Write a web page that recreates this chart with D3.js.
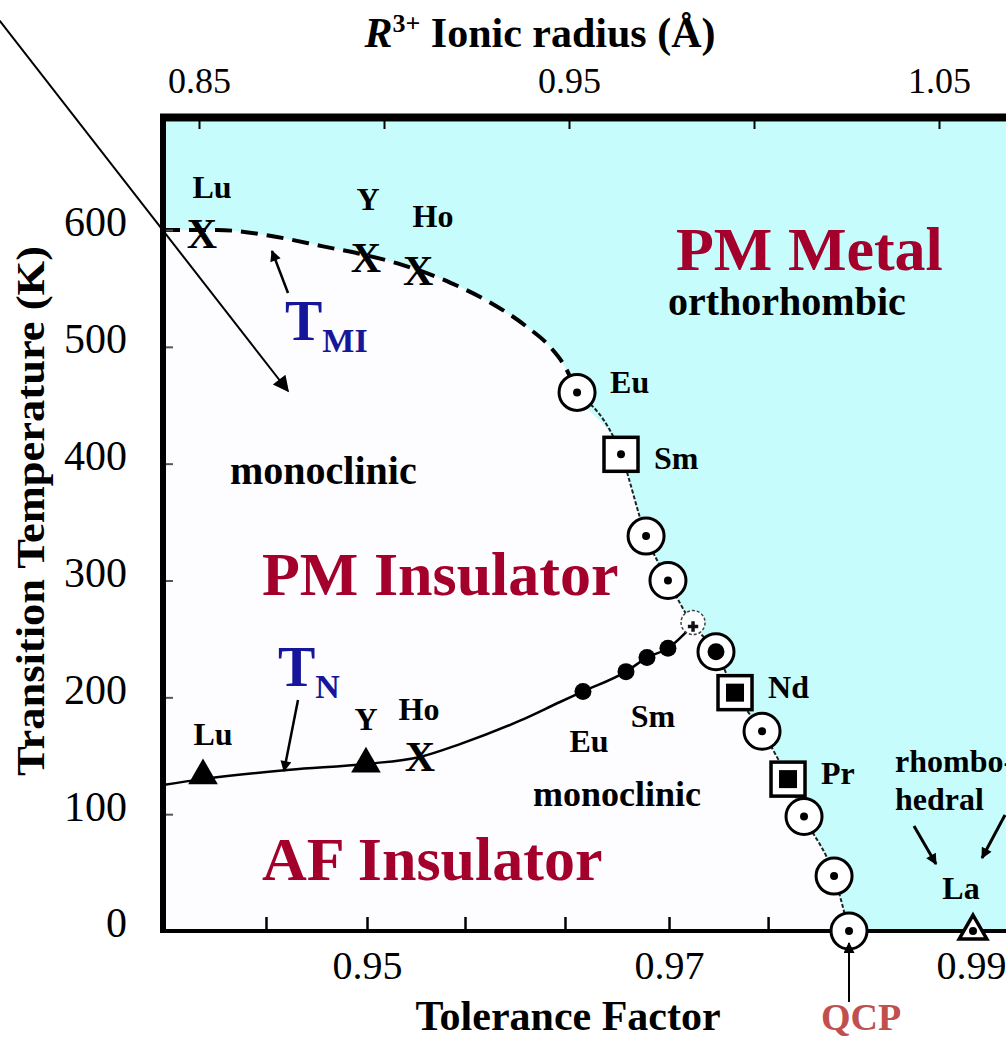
<!DOCTYPE html>
<html>
<head>
<meta charset="utf-8">
<script src="https://cdn.jsdelivr.net/npm/d3@7"></script>
<style>
  body { margin: 0; background: #fff; }
  svg { display: block; font-family: "Liberation Serif", "Times New Roman", serif; }
</style>
</head>
<body>
<svg width="1006" height="1038"></svg>
<script>
// ---- data (tolerance factor / temperature in K) ----
const tolTickValues = [0.94331, 0.95, 0.95649, 0.96311, 0.97, 0.97656];
const tolLabelValues = [0.95, 0.97, 0.99];
const radiusTickValues = [0.85, 0.90, 0.95, 1.00, 1.05];
const radiusLabelValues = [0.85, 0.95, 1.05];
const tempTickValues = [0, 100, 200, 300, 400, 500, 600];

// T_MI, dashed part (Lu .. Eu)
const tmiDashTol = [0.93649, 0.94007, 0.94404, 0.94709, 0.94974, 0.95238, 0.9555, 0.95815, 0.9606, 0.96212, 0.96311, 0.96391];
const tmiDashT   = [600, 600, 594, 586, 579, 570, 555, 538, 517, 500, 483, 461];
// T_MI, solid part (Eu .. QCP)
const tmiEdgeTol = [0.96391, 0.96682, 0.96848, 0.96993, 0.97159, 0.97311, 0.97437, 0.97616, 0.97788, 0.97894, 0.98093, 0.98192];
const tmiEdgeT   = [461, 408, 338, 300, 262, 239, 204, 171, 130, 98, 47, 0];

// markers sitting on the metal/insulator edge
const edgeMarkTol   = [0.96391, 0.96682, 0.96848, 0.96993, 0.97311, 0.97437, 0.97616, 0.97788, 0.97894, 0.98093, 0.98192];
const edgeMarkT     = [461, 408, 338, 300, 239, 204, 171, 130, 98, 47, 0];
const edgeMarkShape = ['dot', 'sq', 'dot', 'dot', 'bigdot', 'fsq', 'dot', 'fsq', 'dot', 'dot', 'dot'];
const edgeMarkName  = ['Eu', 'Sm', '', '', '', 'Nd', '', 'Pr', '', '', ''];

const crossTol = 0.97159, crossT = 264;

// T_MI crosses (Lu, Y, Ho)
const tmiXTol  = [0.93907, 0.94993, 0.95338];
const tmiXT    = [597, 576, 565];
const tmiXName = ['Lu', 'Y', 'Ho'];

// T_N line and markers
const tnLineTol = [0.93649, 0.93914, 0.9449, 0.94993, 0.95351, 0.95616, 0.96013, 0.96278, 0.9643, 0.96715, 0.96854, 0.96993, 0.97159];
const tnLineT   = [125, 130, 138, 143, 149, 160, 180, 196, 205, 222, 234, 242, 262];
const tnTriTol  = [0.93914, 0.94993];
const tnTriT    = [133, 143];
const tnTriName = ['Lu', 'Y'];
const tnXTol = 0.95351, tnXT = 149;
const tnDotTol = [0.9643, 0.96715, 0.96854, 0.96993];
const tnDotT   = [205, 222, 234, 242];

const laTol = 0.99013, laT = 0;

// ---- scales ----
const svg = d3.select('svg');
const x = d3.scaleLinear().domain([0.93649, 0.99258]).range([163, 1010]);
const y = d3.scaleLinear().domain([0, 600]).range([931, 230]);
const rad = d3.scaleLinear().domain([0.85, 1.05]).range([199, 939]);

const darkRed = '#a3002b';
const navy = '#16169a';

// arrow heads
const defs = svg.append('defs');
const addHead = (id, w, h) => {
  defs.append('marker')
      .attr('id', id)
      .attr('viewBox', '0 0 10 10')
      .attr('refX', 9).attr('refY', 5)
      .attr('markerWidth', w).attr('markerHeight', h)
      .attr('markerUnits', 'userSpaceOnUse')
      .attr('orient', 'auto')
    .append('path')
      .attr('d', 'M0,0L10,5L0,10z')
      .attr('fill', 'black');
};
addHead('head', 22, 16);
addHead('headSmall', 14, 11);

// ---- regions ----
svg.append('rect')
    .attr('x', 166).attr('y', 122)
    .attr('width', 844).attr('height', 807)
    .attr('fill', '#c6fcfc');

const edgePts = tmiDashTol.map((t, i) => [t, tmiDashT[i]])
  .concat(tmiEdgeTol.slice(1).map((t, i) => [t, tmiEdgeT[i + 1]]));

svg.append('path')
    .datum(edgePts)
    .attr('fill', '#fdfcfe')
    .attr('d', d3.area()
      .x(d => x(d[0]))
      .y0(y(0))
      .y1(d => y(d[1]))
      .curve(d3.curveMonotoneX));

const line = d3.line().x(d => x(d[0])).y(d => y(d[1])).curve(d3.curveMonotoneX);

svg.append('path')
    .datum(tmiDashTol.map((t, i) => [t, tmiDashT[i]]))
    .attr('fill', 'none')
    .attr('stroke', 'black')
    .attr('stroke-width', 4)
    .attr('stroke-dasharray', '17,9')
    .attr('d', line);

svg.append('path')
    .datum(tmiEdgeTol.map((t, i) => [t, tmiEdgeT[i]]))
    .attr('fill', 'none')
    .attr('stroke', '#222')
    .attr('stroke-width', 2)
    .attr('stroke-dasharray', '4,2')
    .attr('d', line);

svg.append('path')
    .datum(tnLineTol.map((t, i) => [t, tnLineT[i]]))
    .attr('fill', 'none')
    .attr('stroke', 'black')
    .attr('stroke-width', 2.5)
    .attr('d', line);

// ---- axes ----
const styleAxis = (g, size) => {
  g.attr('font-family', null).attr('font-size', size);
  g.select('.domain').remove();
  g.selectAll('.tick text').attr('fill', 'black');
};

svg.append('g')
    .attr('transform', 'translate(0,118)')
    .call(d3.axisTop(rad)
      .tickValues(radiusTickValues)
      .tickSize(-11)
      .tickPadding(25)
      .tickFormat(d => radiusLabelValues.some(v => Math.abs(v - d) < 1e-6) ? d3.format('.2f')(d) : ''))
    .call(styleAxis, 36)
    .selectAll('.tick line').attr('stroke-width', 2);

svg.append('g')
    .attr('transform', 'translate(163,0)')
    .call(d3.axisLeft(y)
      .tickValues(tempTickValues)
      .tickSize(-10)
      .tickPadding(36))
    .call(styleAxis, 42)
    .call(g => g.selectAll('.tick text').attr('dy', '0.14em'))
    .selectAll('.tick line').attr('stroke', '#555').attr('stroke-width', 2);

svg.append('g')
    .attr('transform', 'translate(0,931)')
    .call(d3.axisBottom(x)
      .tickValues(tolTickValues)
      .tickSize(-14)
      .tickFormat(''))
    .call(styleAxis, 40)
    .selectAll('.tick line').attr('stroke-width', 2.5);

svg.append('g')
    .attr('transform', 'translate(0,931)')
    .call(d3.axisBottom(x)
      .tickValues(tolLabelValues)
      .tickSize(0)
      .tickPadding(20)
      .tickFormat(d3.format('.2f')))
    .call(styleAxis, 40);

// frame
svg.append('line').attr('x1', 160).attr('x2', 1010).attr('y1', 117.5).attr('y2', 117.5)
    .attr('stroke', 'black').attr('stroke-width', 8);
svg.append('line').attr('x1', 163).attr('x2', 163).attr('y1', 114).attr('y2', 933)
    .attr('stroke', 'black').attr('stroke-width', 6);
svg.append('line').attr('x1', 160).attr('x2', 1010).attr('y1', 931).attr('y2', 931)
    .attr('stroke', 'black').attr('stroke-width', 4);

// ---- markers ----
const bold = sel => sel.attr('font-weight', 'bold').attr('fill', 'black');

// T_MI crosses
tmiXTol.forEach((t, i) => {
  svg.append('text')
      .attr('x', x(t)).attr('y', y(tmiXT[i]))
      .attr('dy', '0.34em')
      .attr('text-anchor', 'middle')
      .attr('font-size', 42)
      .call(bold)
      .text('X');
});
const tmiNameOff = [[10, -36], [2, -48], [15, -44]];
tmiXTol.forEach((t, i) => {
  svg.append('text')
      .attr('x', x(t) + tmiNameOff[i][0]).attr('y', y(tmiXT[i]) + tmiNameOff[i][1])
      .attr('text-anchor', 'middle')
      .attr('font-size', 32)
      .call(bold)
      .text(tmiXName[i]);
});

// crossing point
svg.append('circle')
    .attr('cx', x(crossTol)).attr('cy', y(crossT)).attr('r', 12)
    .attr('fill', 'white').attr('stroke', '#444')
    .attr('stroke-width', 1.5).attr('stroke-dasharray', '3,2');
svg.append('path')
    .attr('transform', `translate(${x(crossTol)},${y(crossT) + 4})`)
    .attr('d', d3.symbol(d3.symbolCross, 60)())
    .attr('fill', '#111');

// edge markers
edgeMarkTol.forEach((t, i) => {
  const cx = x(t), cy = y(edgeMarkT[i]);
  const shape = edgeMarkShape[i];
  if (shape === 'sq' || shape === 'fsq') {
    svg.append('rect')
        .attr('x', cx - 17).attr('y', cy - 17).attr('width', 34).attr('height', 34)
        .attr('fill', 'white').attr('stroke', 'black').attr('stroke-width', 3.5);
    if (shape === 'fsq') {
      svg.append('rect')
          .attr('x', cx - 9).attr('y', cy - 9).attr('width', 18).attr('height', 18)
          .attr('fill', 'black');
    } else {
      svg.append('circle').attr('cx', cx).attr('cy', cy).attr('r', 4).attr('fill', 'black');
    }
  } else {
    svg.append('circle')
        .attr('cx', cx).attr('cy', cy).attr('r', 18)
        .attr('fill', 'white').attr('stroke', 'black').attr('stroke-width', 3);
    svg.append('circle')
        .attr('cx', cx).attr('cy', cy).attr('r', shape === 'bigdot' ? 8.5 : 4)
        .attr('fill', 'black');
  }
  if (edgeMarkName[i]) {
    svg.append('text')
        .attr('x', cx + 33).attr('y', cy + (i < 2 ? (i === 0 ? 1 : 15) : 5))
        .attr('font-size', 32)
        .call(bold)
        .text(edgeMarkName[i]);
  }
});

// La
svg.append('path')
    .attr('transform', `translate(${x(laTol)},${y(laT)})`)
    .attr('d', d3.symbol(d3.symbolTriangle, 330)())
    .attr('fill', 'white').attr('stroke', 'black').attr('stroke-width', 3.5);
svg.append('circle').attr('cx', x(laTol)).attr('cy', y(laT)).attr('r', 4).attr('fill', 'black');
svg.append('text')
    .attr('x', x(laTol) - 12).attr('y', y(laT) - 32)
    .attr('text-anchor', 'middle').attr('font-size', 32)
    .call(bold).text('La');

// T_N markers
tnTriTol.forEach((t, i) => {
  svg.append('path')
      .attr('transform', `translate(${x(t)},${y(tnTriT[i])})`)
      .attr('d', d3.symbol(d3.symbolTriangle, 380)())
      .attr('fill', 'black');
});
const tnNameOff = [[10, -31], [0, -34]];
tnTriTol.forEach((t, i) => {
  svg.append('text')
      .attr('x', x(t) + tnNameOff[i][0]).attr('y', y(tnTriT[i]) + tnNameOff[i][1])
      .attr('text-anchor', 'middle').attr('font-size', 32)
      .call(bold).text(tnTriName[i]);
});
svg.append('text')
    .attr('x', x(tnXTol)).attr('y', y(tnXT))
    .attr('dy', '0.34em').attr('text-anchor', 'middle').attr('font-size', 42)
    .call(bold).text('X');
svg.append('text')
    .attr('x', x(tnXTol) - 1).attr('y', y(tnXT) - 37)
    .attr('text-anchor', 'middle').attr('font-size', 32)
    .call(bold).text('Ho');

svg.selectAll('.tnDot')
  .data(tnDotTol)
  .enter().append('circle')
    .attr('class', 'tnDot')
    .attr('cx', d => x(d))
    .attr('cy', (d, i) => y(tnDotT[i]))
    .attr('r', 8.5)
    .attr('fill', 'black');

svg.append('text')
    .attr('x', x(tnDotTol[0]) + 6).attr('y', y(tnDotT[0]) + 61)
    .attr('text-anchor', 'middle').attr('font-size', 32)
    .call(bold).text('Eu');
svg.append('text')
    .attr('x', x(tnDotTol[1]) + 27).attr('y', y(tnDotT[1]) + 55)
    .attr('text-anchor', 'middle').attr('font-size', 32)
    .call(bold).text('Sm');

// ---- phase labels ----
const phase = (txt, px, py, size, color) => svg.append('text')
    .attr('x', px).attr('y', py)
    .attr('font-size', size)
    .attr('font-weight', 'bold')
    .attr('fill', color)
    .text(txt);

phase('PM Metal', 676, 270, 62, darkRed);
phase('orthorhombic', 668, 315, 40, 'black');
phase('monoclinic', 230, 484, 40, 'black');
phase('PM Insulator', 262, 595, 62, darkRed);
phase('monoclinic', 533, 806, 36, 'black');
phase('AF Insulator', 262, 880, 62, darkRed);
phase('rhombo-', 895, 772, 32, 'black');
phase('hedral', 895, 810, 32, 'black');

// T_MI, T_N
const tLabel = (px, py, sub, subSize) => {
  const t = svg.append('text')
      .attr('x', px).attr('y', py)
      .attr('font-weight', 'bold')
      .attr('fill', navy)
      .attr('font-size', 56);
  t.append('tspan').text('T');
  t.append('tspan').attr('dy', 12).attr('font-size', subSize).text(sub);
};
tLabel(285, 340, 'MI', 34);
tLabel(278, 686, 'N', 34);

// arrows
const arrow = (x1, y1, x2, y2, w, head) => svg.append('line')
    .attr('x1', x1).attr('y1', y1).attr('x2', x2).attr('y2', y2)
    .attr('stroke', 'black').attr('stroke-width', w)
    .attr('marker-end', `url(#${head})`);

arrow(-4, 16, 288, 391, 2, 'head');
arrow(288, 293, 272, 251, 2.5, 'headSmall');
arrow(298, 700, 284, 771, 2.5, 'headSmall');
arrow(849, 1002, 849, 943, 2, 'headSmall');
arrow(914, 826, 936, 864, 3, 'headSmall');
arrow(1005, 815, 982, 858, 3, 'headSmall');

// ---- titles ----
const title = svg.append('text')
    .attr('x', 540).attr('y', 47)
    .attr('text-anchor', 'middle')
    .attr('font-size', 42)
    .attr('font-weight', 'bold')
    .attr('fill', 'black');
title.append('tspan').attr('font-style', 'italic').text('R');
title.append('tspan').attr('dy', -15).attr('font-size', 26).text('3+');
title.append('tspan').attr('dy', 15).text(' Ionic radius (Å)');

svg.append('text')
    .attr('transform', 'translate(44,511) rotate(-90)')
    .attr('text-anchor', 'middle')
    .attr('font-size', 40)
    .attr('font-weight', 'bold')
    .attr('textLength', 530)
    .attr('lengthAdjust', 'spacingAndGlyphs')
    .text('Transition Temperature (K)');

svg.append('text')
    .attr('x', 568).attr('y', 1030)
    .attr('text-anchor', 'middle')
    .attr('font-size', 42)
    .attr('font-weight', 'bold')
    .text('Tolerance Factor');

svg.append('text')
    .attr('x', 861).attr('y', 1030)
    .attr('text-anchor', 'middle')
    .attr('font-size', 38)
    .attr('font-weight', 'bold')
    .attr('fill', '#c0504d')
    .text('QCP');
</script>
</body>
</html>
